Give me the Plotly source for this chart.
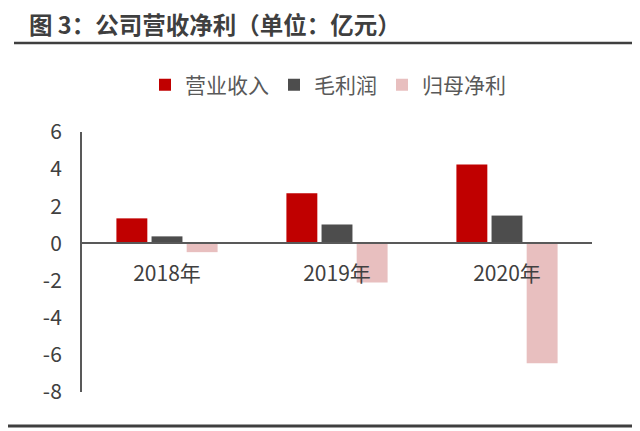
import plotly.graph_objects as go

categories = ["2018年", "2019年", "2020年"]
revenue = [1.35, 2.7, 4.25]
gross_profit = [0.38, 1.02, 1.5]
net_profit = [-0.47, -2.1, -6.45]
series_names = ["营业收入", "毛利润", "归母净利"]
y_ticks = [6, 4, 2, 0, -2, -4, -6, -8]

colors = ["#C00000", "#4D4D4D", "#E8BFBF"]
font_cjk = "Noto Sans CJK SC"

fig = go.Figure()
for name, vals, c in zip(series_names, [revenue, gross_profit, net_profit], colors):
    fig.add_trace(go.Bar(x=categories, y=vals, name=name, marker=dict(color=c, line=dict(width=0))))

OFF = 8  # page offset (body margin)
W, H = 640, 431
L, T = 82 - OFF, 132 - OFF
pw, ph = 510, 260
R = W - L - pw
B = H - T - ph

def px_x(x):
    return (x - OFF - L) / pw

def px_y(y):
    return (T + ph - (y - OFF)) / ph

fig.update_layout(
    width=W, height=H,
    margin=dict(l=L, r=R, t=T, b=B),
    paper_bgcolor="white", plot_bgcolor="white",
    barmode="group", bargap=0.38, bargroupgap=0.12,
    font=dict(family=font_cjk, color="#404040"),
    legend=dict(orientation="h", x=px_x(328), xanchor="center", y=px_y(85), yanchor="middle",
                font=dict(size=21, color="#595959", family=font_cjk),
                itemwidth=30, traceorder="normal"),
    xaxis=dict(anchor="free", position=8/14, showline=True, linecolor="#595959", linewidth=2,
               ticks="", ticklabelstandoff=11, tickfont=dict(size=21, color="#404040"),
               showgrid=False, zeroline=False),
    yaxis=dict(range=[-8, 6], tickvals=y_ticks, ticktext=[str(v) for v in y_ticks],
               showline=True, linecolor="#595959", linewidth=2, showgrid=False, zeroline=False,
               ticks="", ticklabelstandoff=14,
               tickfont=dict(size=21, color="#404040")),
    annotations=[dict(text="<b>图 3：公司营收净利（单位：亿元）</b>", xref="paper", yref="paper",
                      x=px_x(27), y=px_y(24), xanchor="left", yanchor="middle", showarrow=False,
                      font=dict(size=23.5, color="#3F3F3F", family=font_cjk))],
    shapes=[
        dict(type="line", xref="paper", yref="paper", x0=px_x(14), x1=px_x(632), y0=px_y(43), y1=px_y(43),
             line=dict(color="#3F3F3F", width=2.5)),
        dict(type="line", xref="paper", yref="paper", x0=px_x(0), x1=px_x(648), y0=px_y(426), y1=px_y(426),
             line=dict(color="#3F3F3F", width=3)),
    ],
)

fig.write_html("out.html")
